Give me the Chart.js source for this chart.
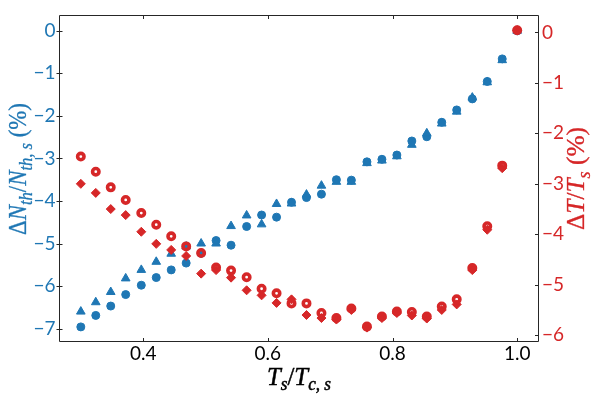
<!DOCTYPE html>
<html><head><meta charset="utf-8">
<script src="https://cdn.jsdelivr.net/npm/chart.js@4/dist/chart.umd.min.js"></script>
<style>html,body{margin:0;padding:0;background:#fff;}#wrap{width:598px;height:399px;}</style>
</head><body><div id="wrap"><canvas id="c" width="598" height="399"></canvas></div>
<script>
// T_s / T_c,s
const ratio = [0.300,0.324,0.348,0.372,0.397,0.421,0.445,0.469,0.493,0.517,0.541,0.566,0.590,0.614,0.638,0.662,0.686,0.710,0.734,0.759,0.783,0.807,0.831,0.855,0.879,0.903,0.928,0.952,0.976,1.000];
// ΔN_th/N_th,s (%) — left axis
const nthCircle   = [-6.96,-6.69,-6.47,-6.20,-5.98,-5.80,-5.62,-5.46,-5.23,-4.93,-5.04,-4.60,-4.33,-4.38,-4.03,-3.92,-3.84,-3.50,-3.51,-3.08,-3.02,-2.92,-2.59,-2.49,-2.15,-1.86,-1.60,-1.19,-0.66,0.00];
const nthTriangle = [-6.60,-6.38,-6.14,-5.82,-5.62,-5.43,-5.24,-5.07,-5.00,-5.00,-4.59,-4.34,-4.55,-4.07,-4.06,-3.85,-3.64,-3.55,-3.55,-3.11,-3.05,-2.95,-2.68,-2.41,-2.18,-1.90,-1.57,-1.21,-0.69,0.00];
// ΔT/T_s (%) — right axis
const tDiamond = [-3.00,-3.18,-3.50,-3.62,-3.95,-4.19,-4.31,-4.43,-4.78,-4.71,-4.86,-5.11,-5.21,-5.36,-5.29,-5.60,-5.66,-5.69,-5.50,-5.85,-5.66,-5.56,-5.61,-5.67,-5.50,-5.39,-4.71,-3.91,-2.69,0.045];
const tRing    = [-2.46,-2.76,-3.07,-3.32,-3.58,-3.81,-4.04,-4.24,-4.37,-4.66,-4.72,-4.85,-5.08,-5.17,-5.37,-5.37,-5.56,-5.66,-5.47,-5.83,-5.63,-5.53,-5.54,-5.63,-5.43,-5.29,-4.67,-3.84,-2.64,0.045];
const xTicks = [0.4,0.6,0.8,1.0];
const leftTicks = [-7,-6,-5,-4,-3,-2,-1,0];
const rightTicks = [-6,-5,-4,-3,-2,-1,0];

const BLUE = '#1f77b4', RED = '#d62728';
const pts = (xs, ys) => xs.map((x, i) => ({x, y: ys[i]}));
const fmt = v => (v < 0 ? '\u2212' + Math.abs(v) : String(v));
const tickFont = {family: 'Lato', size: 19, weight: '400'};

function richText(ctx, segs, size, x, y, angle, target, color, bold) {
  const sub = Math.round(size * 0.7);
  const f = s => (s.it ? 'italic ' : '') + (s.sub ? sub : size) + 'px "Liberation Serif"';
  let total = 0; const w = [];
  segs.forEach(s => { ctx.font = f(s); const m = ctx.measureText(s.t).width; w.push(m); total += m; });
  ctx.save();
  ctx.translate(x, y); ctx.rotate(angle);
  ctx.scale(target / total, 1);
  ctx.fillStyle = color; ctx.strokeStyle = color; ctx.lineWidth = bold;
  ctx.textBaseline = 'alphabetic'; ctx.textAlign = 'left';
  let cx = -total / 2;
  segs.forEach((s, i) => {
    ctx.font = f(s);
    const yy = s.sub ? size * 0.22 : 0;
    ctx.fillText(s.t, cx, yy);
    if (bold > 0) ctx.strokeText(s.t, cx, yy);
    cx += w[i];
  });
  ctx.restore();
}

const framePlugin = {
  id: 'frame',
  afterDraw(chart) {
    const {ctx, chartArea: a, scales} = chart;
    ctx.save();
    ctx.strokeStyle = '#262626'; ctx.lineWidth = 1;
    const L = Math.round(a.left) + 0.5, R = Math.round(a.right) - 0.5, T = Math.round(a.top) + 0.5, B = Math.round(a.bottom) - 0.5;
    ctx.beginPath();
    ctx.rect(L, T, R - L, B - T);
    scales.x.ticks.forEach(t => {
      const px = Math.round(scales.x.getPixelForValue(t.value)) + 0.5;
      ctx.moveTo(px, B); ctx.lineTo(px, B - 3.5);
      ctx.moveTo(px, T); ctx.lineTo(px, T + 3.5);
    });
    scales.y.ticks.forEach(t => {
      const py = Math.round(scales.y.getPixelForValue(t.value)) + 0.5;
      ctx.moveTo(L - 3, py); ctx.lineTo(L + 3, py);
    });
    scales.y2.ticks.forEach(t => {
      const py = Math.round(scales.y2.getPixelForValue(t.value)) + 0.5;
      ctx.moveTo(R, py); ctx.lineTo(R - 3.5, py);
    });
    ctx.stroke();
    // axis titles
    richText(ctx, [{t:'T',it:1},{t:'s',it:1,sub:1},{t:'/'},{t:'T',it:1},{t:'c, s',it:1,sub:1}],
      26, 299, 384.5, 0, 64, '#000', 0.5);
    richText(ctx, [{t:'\u0394'},{t:'N',it:1},{t:'th',it:1,sub:1},{t:'/'},{t:'N',it:1},{t:'th, s',it:1,sub:1},{t:' (%)'}],
      25, 26, 169, -Math.PI / 2, 132, BLUE, 0.3);
    richText(ctx, [{t:'\u0394'},{t:'T',it:1},{t:'/'},{t:'T',it:1},{t:'s',it:1,sub:1},{t:' (%)'}],
      25, 584, 178.5, -Math.PI / 2, 103, RED, 0.3);
    ctx.restore();
  }
};

new Chart(document.getElementById('c'), {
  type: 'scatter',
  data: {
    datasets: [
      {data: pts(ratio, nthCircle), yAxisID: 'y', pointStyle: 'circle', pointRadius: 4, pointBorderWidth: 1,
       backgroundColor: BLUE, borderColor: BLUE, order: 4},
      {data: pts(ratio, nthTriangle), yAxisID: 'y', pointStyle: 'triangle', pointRadius: 5, pointBorderWidth: 1,
       backgroundColor: BLUE, borderColor: BLUE, order: 3},
      {data: pts(ratio, tDiamond), yAxisID: 'y2', pointStyle: 'rectRot', pointRadius: 4.5, pointBorderWidth: 1,
       backgroundColor: RED, borderColor: RED, order: 2},
      {data: pts(ratio, tRing), yAxisID: 'y2', pointStyle: 'circle', pointRadius: 3.2, pointBorderWidth: 3.6,
       backgroundColor: 'rgba(0,0,0,0)', borderColor: RED, order: 1}
    ]
  },
  options: {
    responsive: false, animation: false, devicePixelRatio: 1,
    layout: {padding: {top: 7, left: 0, right: 0, bottom: 0}},
    plugins: {legend: {display: false}, tooltip: {enabled: false}},
    scales: {
      x: {type: 'linear', position: 'bottom', min: 0.265, max: 1.035,
          grid: {display: false, drawTicks: false}, border: {display: false},
          afterBuildTicks: s => { s.ticks = xTicks.map(v => ({value: v})); },
          afterFit: s => { s.height = 57; },
          ticks: {font: tickFont, color: '#000', padding: 0, maxRotation: 0, autoSkip: false,
                  callback: v => v.toFixed(1)}},
      y: {type: 'linear', position: 'left', min: -7.315, max: 0.374,
          grid: {display: false, drawTicks: false}, border: {display: false},
          afterBuildTicks: s => { s.ticks = leftTicks.map(v => ({value: v})); },
          afterFit: s => { s.width = 59; },
          ticks: {font: tickFont, color: BLUE, padding: 3.5, autoSkip: false, callback: v => fmt(v)}},
      y2: {type: 'linear', position: 'right', min: -6.135, max: 0.348,
          grid: {display: false, drawTicks: false}, border: {display: false},
          afterBuildTicks: s => { s.ticks = rightTicks.map(v => ({value: v})); },
          afterFit: s => { s.width = 59; },
          ticks: {font: tickFont, color: RED, padding: 3, autoSkip: false, callback: v => fmt(v)}}
    }
  },
  plugins: [framePlugin]
});
</script></body></html>
